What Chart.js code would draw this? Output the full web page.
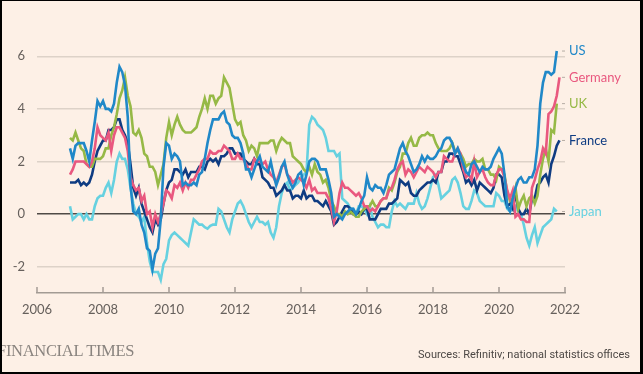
<!DOCTYPE html>
<html>
<head>
<meta charset="utf-8">
<script src="https://cdn.jsdelivr.net/npm/chart.js@4.4.1/dist/chart.umd.min.js"></script>
<style>
  html, body { margin: 0; padding: 0; background: #fdf0e6; }
  #wrap { position: relative; width: 643px; height: 374px; background: #fdf0e6; overflow: hidden; }
  #wrap canvas { position: absolute; left: 0; top: 0; }
  #frame {
    position: absolute; left: 0; top: 0; width: 643px; height: 374px;
    box-sizing: border-box; border-style: solid; border-color: #000;
    border-width: 1px 3px 2px 2px; pointer-events: none;
  }
  .ft {
    position: absolute; left: -3px; top: 341px;
    font-family: "Liberation Serif", serif; font-size: 16.5px;
    letter-spacing: -0.3px; color: #8a847f;
  }
  .src {
    position: absolute; right: 13px; top: 348px;
    font-family: "Liberation Sans Narrow", "Roboto", sans-serif; font-size: 11px;
    color: #4d4845;
  }
</style>
</head>
<body>
<div id="wrap">
  <canvas id="chart" width="643" height="374"></canvas>
  <div class="ft">FINANCIAL TIMES</div>
  <div class="src">Sources: Refinitiv; national statistics offices</div>
  <div id="frame"></div>
</div>
<script>
// Annual inflation, %, monthly from Jan 2007
const startYear = 2007;
const xTicks = [2006, 2008, 2010, 2012, 2014, 2016, 2018, 2020, 2022];
const yTicks = [-2, 0, 2, 4, 6];

const countries = ["US", "Germany", "UK", "France", "Japan"];
const colours = ["#2088c8", "#e9587f", "#96b946", "#0f3c82", "#66d1e0"];

const us = [
  2.5, 2.1, 2.6, 2.7, 2.7, 2.7, 2.4, 2.0, 2.8, 3.5, 4.3, 4.1,
  4.3, 4.0, 4.0, 3.9, 4.2, 5.0, 5.6, 5.4, 4.9, 3.7, 1.1, 0.1,
  0.0, 0.2, -0.4, -0.7, -1.3, -1.4, -2.1, -1.5, -1.3, -0.2, 1.8, 2.7,
  2.6, 2.1, 2.3, 2.2, 2.0, 1.1, 1.2, 1.1, 1.1, 1.2, 1.1, 1.5,
  1.6, 2.1, 2.7, 3.2, 3.6, 3.6, 3.6, 3.8, 3.9, 3.5, 3.4, 3.0,
  2.9, 2.9, 2.7, 2.3, 1.7, 1.7, 1.4, 1.7, 2.0, 2.2, 1.8, 1.7,
  1.6, 2.0, 1.5, 1.1, 1.4, 1.8, 2.0, 1.5, 1.2, 1.0, 1.2, 1.5,
  1.6, 1.1, 1.5, 2.0, 2.1, 2.1, 2.0, 1.7, 1.7, 1.7, 1.3, 0.8,
  -0.1, 0.0, -0.1, -0.2, 0.0, 0.1, 0.2, 0.2, 0.0, 0.2, 0.5, 0.7,
  1.4, 1.0, 0.9, 1.1, 1.0, 1.0, 0.8, 1.1, 1.5, 1.6, 1.7, 2.1,
  2.5, 2.7, 2.4, 2.2, 1.9, 1.6, 1.7, 1.9, 2.2, 2.0, 2.2, 2.1,
  2.1, 2.2, 2.4, 2.5, 2.8, 2.9, 2.9, 2.7, 2.3, 2.5, 2.2, 1.9,
  1.6, 1.5, 1.9, 2.0, 1.8, 1.6, 1.8, 1.7, 1.7, 1.8, 2.1, 2.3,
  2.5, 2.3, 1.5, 0.3, 0.1, 0.6, 1.0, 1.3, 1.4, 1.2, 1.2, 1.4,
  1.4, 1.7, 2.6, 4.2, 5.0, 5.4, 5.4, 5.3, 5.4, 6.2
];
const germany = [
  1.5, 1.7, 2.0, 2.0, 2.0, 2.0, 1.9, 1.8, 2.0, 2.5, 3.3, 3.0,
  2.9, 2.8, 3.1, 2.4, 3.0, 3.3, 3.3, 3.1, 2.9, 2.4, 1.4, 1.1,
  0.9, 1.0, 0.5, 0.7, 0.0, 0.1, -0.5, 0.0, -0.3, 0.0, 0.4, 0.9,
  0.8, 0.6, 1.1, 1.0, 1.2, 0.9, 1.2, 1.0, 1.3, 1.3, 1.5, 1.7,
  2.0, 2.1, 2.1, 2.4, 2.3, 2.3, 2.4, 2.4, 2.6, 2.5, 2.4, 2.1,
  2.1, 2.3, 2.1, 2.1, 1.9, 1.7, 1.7, 2.1, 2.0, 2.0, 1.9, 2.0,
  1.7, 1.5, 1.4, 1.2, 1.5, 1.8, 1.9, 1.5, 1.4, 1.2, 1.3, 1.4,
  1.3, 1.2, 1.0, 1.3, 0.9, 1.0, 0.8, 0.8, 0.8, 0.8, 0.6, 0.2,
  -0.3, 0.1, 0.8, 1.2, 1.0, 1.0, 0.9, 0.8, 0.7, 0.8, 0.6, 0.3,
  0.3, 0.1, 0.2, 0.1, 0.3, 0.5, 0.6, 0.6, 0.9, 1.0, 1.3, 1.7,
  1.9, 2.0, 1.5, 1.7, 1.6, 1.4, 1.6, 1.8, 1.7, 1.6, 1.8, 1.7,
  1.6, 1.4, 1.6, 1.6, 2.2, 2.1, 2.0, 2.0, 2.3, 2.5, 2.3, 1.7,
  1.4, 1.5, 1.3, 2.0, 1.4, 1.6, 1.7, 1.4, 1.2, 1.1, 1.1, 1.5,
  1.7, 1.7, 1.4, 0.9, 0.6, 0.9, -0.1, 0.0, -0.2, -0.2, -0.3, -0.3,
  1.0, 1.3, 1.7, 2.0, 2.5, 2.3, 3.8, 3.9, 4.1, 4.5, 5.2
];
const uk = [
  2.9, 2.8, 3.1, 2.8, 2.5, 2.4, 1.9, 1.8, 1.8, 2.1, 2.1, 2.1,
  2.2, 2.5, 2.5, 3.0, 3.3, 3.8, 4.4, 4.7, 5.2, 4.5, 4.1, 3.1,
  3.0, 3.2, 2.9, 2.3, 2.2, 1.8, 1.8, 1.6, 1.1, 1.5, 1.9, 2.9,
  3.5, 3.0, 3.4, 3.7, 3.4, 3.2, 3.1, 3.1, 3.1, 3.2, 3.3, 3.7,
  4.0, 4.4, 4.0, 4.5, 4.5, 4.2, 4.4, 4.5, 5.2, 5.0, 4.8, 4.2,
  3.6, 3.4, 3.5, 3.0, 2.8, 2.4, 2.6, 2.5, 2.2, 2.7, 2.7, 2.7,
  2.7, 2.8, 2.8, 2.4, 2.7, 2.9, 2.8, 2.7, 2.7, 2.2, 2.1, 2.0,
  1.9, 1.7, 1.6, 1.8, 1.5, 1.9, 1.6, 1.5, 1.2, 1.3, 1.0, 0.5,
  0.3, 0.0, 0.0, -0.1, 0.1, 0.0, 0.1, 0.0, -0.1, -0.1, 0.1, 0.2,
  0.3, 0.3, 0.5, 0.3, 0.3, 0.5, 0.6, 0.6, 1.0, 0.9, 1.2, 1.6,
  1.8, 2.3, 2.3, 2.7, 2.9, 2.6, 2.6, 2.9, 3.0, 3.0, 3.1, 3.0,
  3.0, 2.7, 2.5, 2.4, 2.4, 2.4, 2.5, 2.7, 2.4, 2.4, 2.3, 2.1,
  1.8, 1.9, 1.9, 2.1, 2.0, 2.0, 2.1, 1.7, 1.7, 1.5, 1.5, 1.3,
  1.8, 1.7, 1.5, 0.8, 0.5, 0.6, 1.0, 0.2, 0.5, 0.7, 0.3, 0.6,
  0.7, 0.4, 0.7, 1.5, 2.1, 2.5, 2.0, 3.2, 3.1, 4.2
];
const france = [
  1.2, 1.2, 1.2, 1.3, 1.1, 1.2, 1.1, 1.2, 1.5, 2.0, 2.4, 2.6,
  2.8, 2.8, 3.2, 3.2, 3.3, 3.6, 3.6, 3.2, 3.0, 2.7, 1.9, 1.0,
  0.7, 1.0, 0.4, 0.1, -0.2, -0.5, -0.7, -0.2, -0.4, -0.2, 0.4, 0.9,
  1.2, 1.3, 1.7, 1.7, 1.6, 1.5, 1.7, 1.4, 1.6, 1.6, 1.6, 1.8,
  1.8, 1.7, 2.0, 2.1, 2.0, 2.1, 1.9, 2.2, 2.2, 2.3, 2.5, 2.5,
  2.3, 2.3, 2.3, 2.1, 2.0, 1.9, 1.9, 2.1, 1.9, 1.9, 1.4, 1.3,
  1.2, 1.0, 1.0, 0.7, 0.8, 0.9, 1.1, 0.9, 0.9, 0.6, 0.7, 0.7,
  0.6, 0.9, 0.6, 0.7, 0.7, 0.5, 0.5, 0.4, 0.3, 0.5, 0.3, 0.1,
  -0.4, -0.3, -0.1, 0.1, 0.3, 0.3, 0.2, 0.0, 0.0, 0.1, 0.0, 0.2,
  0.2, -0.2, -0.2, -0.2, 0.0, 0.2, 0.2, 0.2, 0.4, 0.4, 0.5, 0.6,
  1.3, 1.2, 1.1, 1.2, 0.8, 0.7, 0.7, 0.9, 1.0, 1.1, 1.2, 1.2,
  1.3, 1.2, 1.6, 1.6, 2.0, 2.0, 2.3, 2.3, 2.2, 2.2, 1.9, 1.6,
  1.2, 1.3, 1.1, 1.3, 0.9, 1.2, 1.1, 1.0, 0.9, 0.8, 1.0, 1.5,
  1.5, 1.4, 0.7, 0.3, 0.4, 0.2, 0.8, 0.2, 0.0, 0.0, 0.2, 0.0,
  0.6, 0.6, 1.1, 1.2, 1.4, 1.5, 1.2, 1.9, 2.2, 2.6, 2.8
];
const japan = [
  0.3, -0.2, -0.1, 0.0, 0.0, -0.2, 0.0, -0.2, -0.2, 0.3, 0.6, 0.7,
  0.7, 1.0, 1.2, 0.8, 1.3, 2.0, 2.3, 2.1, 2.1, 1.7, 1.0, 0.4,
  0.0, -0.1, -0.3, -0.1, -1.1, -1.8, -2.2, -2.2, -2.2, -2.5, -1.9, -1.7,
  -1.0, -0.8, -0.7, -0.8, -0.9, -1.0, -1.1, -1.2, -0.7, -0.2, -0.3, -0.4,
  -0.4, -0.5, -0.55, -0.45, -0.4, -0.4, 0.2, 0.1, -0.2, -0.5, -0.7, -0.2,
  0.1, 0.4, 0.5, 0.3, 0.0, -0.3, -0.5, -0.3, -0.1, -0.3, -0.3, -0.4,
  -0.3, -0.7, -0.9, -0.5, 0.3, 0.8, 1.1, 1.2, 0.9, 1.0, 1.1, 1.2,
  1.4, 1.5, 1.6, 3.4, 3.7, 3.6, 3.4, 3.3, 3.2, 2.9, 2.4, 2.4,
  2.4, 2.2, 2.3, 0.6, 0.5, 0.4, 0.2, 0.2, 0.0, 0.3, 0.3, 0.2,
  0.0, 0.3, -0.1, -0.3, -0.5, -0.4, -0.4, -0.5, -0.5, 0.1, 0.5, 0.3,
  0.4, 0.3, 0.2, 0.4, 0.4, 0.4, 0.8, 0.4, 0.2, 0.3, 0.6, 1.0,
  1.4, 1.5, 1.1, 0.6, 0.7, 0.8, 0.9, 1.3, 1.4, 1.2, 0.8, 0.3,
  0.2, 0.2, 0.5, 0.9, 0.8, 0.5, 0.4, 0.3, 0.3, 0.3, 0.3, 0.8,
  0.7, 0.5, 0.5, 0.2, 0.1, 0.2, 0.3, 0.1, 0.0, -0.4, -0.9, -1.2,
  -0.8, -0.5, -1.1, -0.8, -0.5, -0.4, -0.3, -0.2, 0.2, 0.1
];

const seriesValues = [us, germany, uk, france, japan];

function monthly(values) {
  return values.map((v, i) => ({ x: startYear + i / 12, y: v }));
}

const tickFont = { family: "Lato, 'Open Sans', sans-serif", size: 13 };
const tickColour = "#66605c";

// small upward tick marks on the x axis and the country labels at line ends
const extras = {
  id: "extras",
  afterDatasetsDraw(chart) {
    const { ctx, chartArea, scales } = chart;
    ctx.save();
    ctx.strokeStyle = "#a39b94";
    ctx.lineWidth = 1.5;
    xTicks.forEach((t) => {
      const px = scales.x.getPixelForValue(t);
      ctx.beginPath();
      ctx.moveTo(px, chartArea.bottom);
      ctx.lineTo(px, chartArea.bottom - 6);
      ctx.stroke();
    });

    ctx.font = "13px Lato, 'Open Sans', sans-serif";
    ctx.textBaseline = "middle";
    ctx.textAlign = "left";
    chart.data.datasets.forEach((ds) => {
      const last = ds.data[ds.data.length - 1];
      const py = scales.y.getPixelForValue(last.y);
      ctx.strokeStyle = "#b5aca4";
      ctx.lineWidth = 1;
      ctx.beginPath();
      ctx.moveTo(chartArea.right - 3, py);
      ctx.lineTo(chartArea.right, py);
      ctx.stroke();
      ctx.fillStyle = ds.borderColor;
      ctx.fillText(ds.label, chartArea.right + 4, py);
    });
    ctx.restore();
  },
};

new Chart(document.getElementById("chart"), {
  type: "line",
  data: {
    datasets: countries.map((name, i) => ({
      label: name,
      data: monthly(seriesValues[i]),
      borderColor: colours[i],
      borderWidth: 2.6,
      pointRadius: 0,
      tension: 0,
      fill: false,
    })),
  },
  options: {
    responsive: false,
    animation: false,
    layout: { padding: { top: 30, right: 78, bottom: 0, left: 0 } },
    plugins: {
      legend: { display: false },
      tooltip: { enabled: false },
    },
    scales: {
      x: {
        type: "linear",
        min: 2006,
        max: 2022,
        afterBuildTicks: (axis) => {
          axis.ticks = xTicks.map((v) => ({ value: v }));
        },
        afterFit: (axis) => {
          axis.height = 81;
        },
        grid: { display: false, drawTicks: false },
        border: { display: true, color: "#a39b94", width: 1.5 },
        ticks: {
          font: tickFont,
          color: tickColour,
          padding: 9,
          maxRotation: 0,
          callback: (v) => String(v),
        },
      },
      y: {
        min: -3,
        max: 7,
        afterBuildTicks: (axis) => {
          axis.ticks = yTicks.map((v) => ({ value: v }));
        },
        afterFit: (axis) => {
          axis.width = 37;
        },
        grid: {
          drawTicks: false,
          color: (c) => (c.tick && c.tick.value === 0 ? "#4f4a46" : "#ddd2c8"),
          lineWidth: 1.5,
        },
        border: { display: false },
        ticks: {
          font: tickFont,
          color: tickColour,
          padding: 12,
        },
      },
    },
  },
  plugins: [extras],
});
</script>
</body>
</html>
